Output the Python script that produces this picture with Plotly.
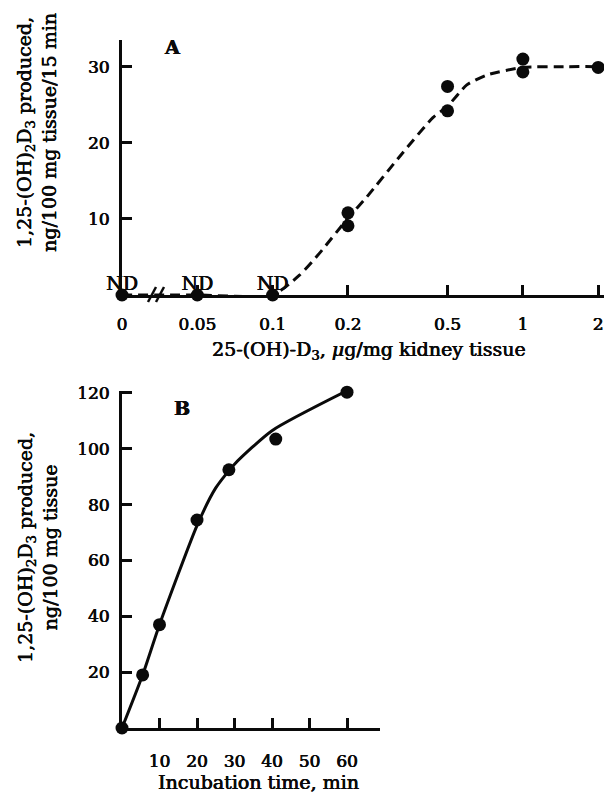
import math
import plotly.graph_objects as go

# ---------------- Panel A data ----------------
a_x = [0, 0.05, 0.1, 0.2, 0.2, 0.5, 0.5, 1, 1, 2]
a_y = [0, 0, 0, 10.8, 9.1, 27.4, 24.2, 31.0, 29.3, 29.9]
nd_x = [0, 0.05, 0.1]
nd_text = ["ND", "ND", "ND"]
a_curve_x = [0, 0.05, 0.1, 0.128, 0.154, 0.2, 0.238, 0.322, 0.437, 0.5, 0.597, 0.718, 1, 1.5, 2]
a_curve_y = [0, 0, 0, 2.6, 5.5, 10.1, 12.9, 18.2, 23.3, 24.8, 27.6, 28.9, 29.9, 30, 30]
a_xtickvals = [0, 0.05, 0.1, 0.2, 0.5, 1, 2]
a_xticktext = ["0", "0.05", "0.1", "0.2", "0.5", "1", "2"]
a_ytickvals = [10, 20, 30]

# ---------------- Panel B data ----------------
b_x = [0, 5.5, 10, 20, 28.5, 41, 60]
b_y = [0, 19, 37, 74.5, 92.5, 103.5, 120.3]
b_curve_x = [0, 5.5, 10, 20, 25, 30, 40, 60]
b_curve_y = [0, 19, 37, 72.5, 86, 94.5, 106.5, 120.8]
b_xtickvals = [10, 20, 30, 40, 50, 60]
b_ytickvals = [20, 40, 60, 80, 100, 120]

ZERO_POS = 0.025  # display position of "0" on the broken log axis


def zpos(v):
    return ZERO_POS if v == 0 else v


W, H = 604, 797
FONT = "DejaVu Serif"
BLACK = "#0a0a0a"
SHADOW = "0.45px 0 0 #0a0a0a, -0.2px 0 0 #0a0a0a"


def px(x):
    return x / W


def py(y):
    return 1 - y / H


def tf(size):
    return dict(family=FONT, size=size, color=BLACK, shadow=SHADOW)


fig = go.Figure()

# Panel A
fig.add_trace(go.Scatter(
    x=[zpos(v) for v in a_curve_x], y=a_curve_y, mode="lines",
    line=dict(color=BLACK, width=3, dash="10px,6px", shape="spline", smoothing=0.6),
    xaxis="x", yaxis="y", showlegend=False, cliponaxis=False, hoverinfo="skip"))
fig.add_trace(go.Scatter(
    x=[zpos(v) for v in a_x], y=a_y, mode="markers",
    marker=dict(color=BLACK, size=13),
    xaxis="x", yaxis="y", showlegend=False, cliponaxis=False))
fig.add_trace(go.Scatter(
    x=[zpos(v) for v in nd_x], y=[0] * len(nd_x), mode="text",
    text=nd_text, textposition="top center", textfont=tf(19),
    xaxis="x", yaxis="y", showlegend=False, cliponaxis=False))

# Panel B
fig.add_trace(go.Scatter(
    x=b_curve_x, y=b_curve_y, mode="lines",
    line=dict(color=BLACK, width=3, shape="spline", smoothing=0.6),
    xaxis="x2", yaxis="y2", showlegend=False, cliponaxis=False, hoverinfo="skip"))
fig.add_trace(go.Scatter(
    x=b_x, y=b_y, mode="markers",
    marker=dict(color=BLACK, size=13),
    xaxis="x2", yaxis="y2", showlegend=False, cliponaxis=False))

axis_common = dict(showline=True, linecolor=BLACK, linewidth=3, ticks="inside",
                   tickcolor=BLACK, tickwidth=3, ticklen=10, showgrid=False,
                   zeroline=False, tickfont=tf(17), fixedrange=True)

fig.update_layout(
    width=W, height=H, margin=dict(l=0, r=0, t=0, b=0, autoexpand=False),
    paper_bgcolor="white", plot_bgcolor="white",
    xaxis=dict(type="log", domain=[px(122), 1.0],
               range=[math.log10(ZERO_POS), math.log10(2.11)],
               tickmode="array", tickvals=[zpos(v) for v in a_xtickvals],
               ticktext=a_xticktext, anchor="y", ticklabelstandoff=12, **axis_common),
    yaxis=dict(domain=[py(295), py(40)], range=[0, 33.5],
               tickmode="array", tickvals=a_ytickvals, anchor="x",
               ticklabelstandoff=6, **axis_common),
    xaxis2=dict(domain=[px(122), px(380)], range=[0, 68.8],
                tickmode="array", tickvals=b_xtickvals, anchor="y2",
                ticklabelstandoff=16, **axis_common),
    yaxis2=dict(domain=[py(728), py(391.3)], range=[0, 120.6],
                tickmode="array", tickvals=b_ytickvals, anchor="x2",
                ticklabelstandoff=6, **axis_common),
)


def ann(x, y, text, angle=0, font=None):
    fig.add_annotation(x=px(x), y=py(y), xref="paper", yref="paper", text=text,
                       textangle=angle, showarrow=False, font=font or tf(19),
                       xanchor="center", yanchor="middle")


ann(172, 47, "<b>A</b>")
ann(182, 408, "<b>B</b>")
ann(37, 133, "1,25-(OH)<sub>2</sub>D<sub>3</sub> produced,<br>ng/100 mg tissue/15 min", -90)
ann(369, 350, "25-(OH)-D<sub>3</sub>, <i>μ</i>g/mg kidney tissue")
ann(37, 548, "1,25-(OH)<sub>2</sub>D<sub>3</sub> produced,<br>ng/100 mg tissue", -90)
ann(258, 782, "Incubation time, min")

# axis break marks
for x0 in (148, 156):
    fig.add_shape(type="line", xref="paper", yref="paper",
                  x0=px(x0), y0=py(302), x1=px(x0 + 8), y1=py(287),
                  line=dict(color=BLACK, width=2.5))

fig.write_html(
    "out.html",
    config={"displayModeBar": False},
    post_script="document.body.style.margin='0px';document.body.style.overflow='hidden';",
)
